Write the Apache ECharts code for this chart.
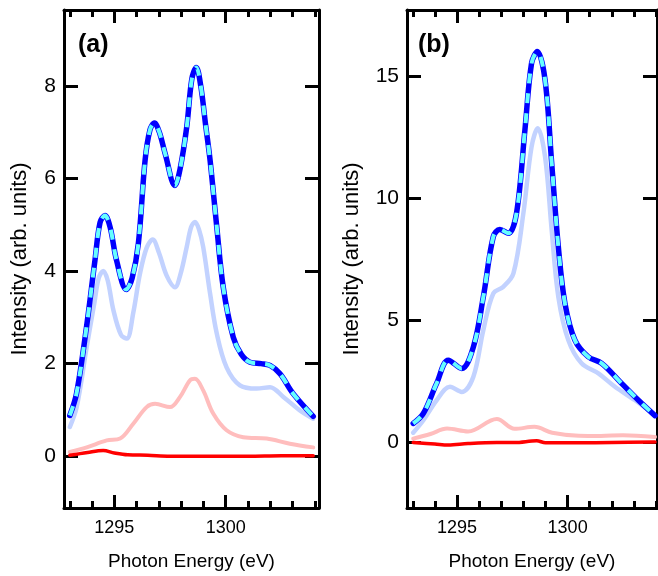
<!DOCTYPE html>
<html>
<head>
<meta charset="utf-8">
<script src="https://cdn.jsdelivr.net/npm/echarts@6/dist/echarts.min.js"></script>
<style>
html,body{margin:0;padding:0;background:#fff;}
#chart{width:658px;height:576px;}
</style>
</head>
<body>
<div id="chart"></div>
<script>
// ---------- Data (Photon Energy eV, Intensity arb. units) ----------
const panelLabels = ['(a)', '(b)'];
const xName = 'Photon Energy (eV)';
const yName = 'Intensity (arb. units)';
const xMajorTicks = [1295, 1300];
const xMinorTicks = [1293, 1294, 1295, 1296, 1297, 1298, 1299, 1300, 1301, 1302, 1303, 1304];
const yTicksA = [0, 2, 4, 6, 8];
const yTicksB = [0, 5, 10, 15];

// Panel (a)
const aTotal = [[1293.0,0.88],[1293.3,1.35],[1293.75,2.79],[1294.13,4.23],[1294.36,5.05],[1294.58,5.2],[1294.81,4.95],[1295.1,4.23],[1295.54,3.6],[1295.8,3.85],[1296.08,4.6],[1296.38,6.39],[1296.6,7.05],[1296.8,7.2],[1297.02,7.0],[1297.28,6.54],[1297.72,5.85],[1297.95,6.2],[1298.25,7.11],[1298.48,8.15],[1298.68,8.4],[1298.88,8.0],[1299.1,7.15],[1299.3,6.39],[1299.6,4.95],[1299.89,3.65],[1300.34,2.57],[1300.7,2.2],[1301.09,2.03],[1301.6,2.0],[1301.99,1.96],[1302.44,1.78],[1303.03,1.35],[1303.93,0.86]];
const aComp1 = [[1293.0,0.63],[1293.31,1.06],[1293.76,2.36],[1294.1,3.3],[1294.3,3.85],[1294.5,4.0],[1294.7,3.8],[1294.96,3.15],[1295.3,2.62],[1295.56,2.54],[1295.85,3.1],[1296.15,3.94],[1296.45,4.5],[1296.72,4.68],[1297.0,4.4],[1297.35,3.9],[1297.72,3.65],[1297.98,3.95],[1298.25,4.52],[1298.45,4.95],[1298.62,5.06],[1298.8,4.9],[1298.99,4.52],[1299.3,3.51],[1299.6,2.65],[1300.04,1.92],[1300.64,1.53],[1301.39,1.46],[1301.99,1.49],[1302.59,1.28],[1303.33,0.99],[1303.93,0.81]];
const aComp2 = [[1293.0,0.09],[1293.76,0.19],[1294.66,0.34],[1295.26,0.38],[1295.85,0.7],[1296.45,1.06],[1296.83,1.13],[1297.5,1.06],[1297.95,1.28],[1298.4,1.64],[1298.62,1.67],[1298.99,1.42],[1299.44,0.92],[1300.04,0.56],[1300.79,0.41],[1301.84,0.38],[1302.88,0.27],[1303.93,0.19]];
const aResid = [[1293.0,0.02],[1293.8,0.08],[1294.5,0.12],[1295.0,0.07],[1295.6,0.03],[1296.5,0.02],[1297.5,0.0],[1299.0,0.0],[1301.0,0.0],[1302.5,0.01],[1303.93,0.01]];

// Panel (b)
const bTotal = [[1293.02,0.78],[1293.48,1.19],[1294.08,2.42],[1294.61,3.37],[1295.21,3.03],[1295.74,3.91],[1296.19,5.96],[1296.64,8.42],[1296.94,8.72],[1297.32,8.56],[1297.69,9.38],[1298.07,12.79],[1298.37,15.52],[1298.63,16.0],[1298.98,14.84],[1299.28,11.43],[1299.58,8.01],[1299.88,5.69],[1300.33,4.19],[1300.93,3.51],[1301.54,3.24],[1302.44,2.42],[1303.2,1.73],[1303.95,1.1]];
const bComp1 = [[1293.02,0.4],[1293.48,0.91],[1294.08,1.73],[1294.68,2.28],[1295.21,2.07],[1295.74,2.69],[1296.19,4.6],[1296.64,6.1],[1297.09,6.37],[1297.55,6.92],[1298.0,9.38],[1298.37,12.1],[1298.65,12.86],[1298.98,11.7],[1299.28,8.69],[1299.58,5.96],[1300.03,4.19],[1300.63,3.24],[1301.39,2.83],[1302.14,2.28],[1303.05,1.73],[1303.95,1.1]];
const bComp2 = [[1293.02,0.16],[1293.8,0.35],[1294.55,0.57],[1295.5,0.45],[1296.8,0.96],[1297.6,0.56],[1298.5,0.64],[1299.3,0.4],[1300.5,0.28],[1301.5,0.27],[1302.5,0.3],[1303.95,0.23]];
const bResid = [[1293.02,0.0],[1294.0,-0.06],[1294.6,-0.1],[1295.5,-0.04],[1296.8,0.0],[1297.6,0.0],[1298.6,0.07],[1299.0,-0.01],[1300.5,-0.01],[1302.0,0.0],[1303.95,0.02]];

// ---------- Styling ----------
const FONT = 'Liberation Sans, Arial, Helvetica, sans-serif';
const C_BLUE = '#0000ff', C_CYAN = '#66ffff', C_LBLUE = '#c2d2ff', C_PINK = '#ffbdbd', C_RED = '#ff0000';

const panels = [
  { grid: { left: 64, top: 10, width: 255, height: 498 }, xMin: 1292.74, xMax: 1304.19, yMin: -1.12, yMax: 9.64, yTicks: yTicksA, yNameGap: 33,
    total: aTotal, c1: aComp1, c2: aComp2, res: aResid, label: panelLabels[0], labelPos: [78, 33] },
  { grid: { left: 407, top: 10, width: 250, height: 498 }, xMin: 1292.74, xMax: 1304.04, yMin: -2.68, yMax: 17.7, yTicks: yTicksB, yNameGap: 44,
    total: bTotal, c1: bComp1, c2: bComp2, res: bResid, label: panelLabels[1], labelPos: [418, 33] }
];

const grids = [], xAxes = [], yAxes = [], series = [], titles = [];
const axLine = { show: true, onZero: false, lineStyle: { color: '#000', width: 3 } };
const noLine = { show: false, onZero: false };
const plain = v => String(Math.round(v));
panels.forEach((p, g) => {
  grids.push(p.grid);
  const xb = xAxes.length;
  const xBase = { gridIndex: g, type: 'value', min: p.xMin, max: p.xMax, splitLine: { show: false } };
  xAxes.push(Object.assign({}, xBase, { position: 'bottom', axisLine: axLine,
    axisTick: { inside: true, length: 13, customValues: xMajorTicks, lineStyle: { color: '#000', width: 3 } },
    axisLabel: { customValues: xMajorTicks, formatter: plain, fontSize: 18, color: '#000', margin: 11, fontFamily: FONT },
    name: xName, nameLocation: 'middle', nameGap: 44, nameTextStyle: { fontSize: 19, color: '#000', fontFamily: FONT } }));
  xAxes.push(Object.assign({}, xBase, { position: 'bottom', axisLine: noLine,
    axisTick: { inside: true, length: 7, customValues: xMinorTicks, lineStyle: { color: '#000', width: 3 } },
    axisLabel: { show: false } }));
  xAxes.push(Object.assign({}, xBase, { position: 'top', axisLine: axLine,
    axisTick: { inside: true, length: 13, customValues: xMajorTicks, lineStyle: { color: '#000', width: 3 } },
    axisLabel: { show: false } }));
  xAxes.push(Object.assign({}, xBase, { position: 'top', axisLine: noLine,
    axisTick: { inside: true, length: 7, customValues: xMinorTicks, lineStyle: { color: '#000', width: 3 } },
    axisLabel: { show: false } }));
  const yb = yAxes.length;
  const yBase = { gridIndex: g, type: 'value', min: p.yMin, max: p.yMax, splitLine: { show: false } };
  yAxes.push(Object.assign({}, yBase, { position: 'left', axisLine: axLine,
    axisTick: { inside: true, length: 14, customValues: p.yTicks, lineStyle: { color: '#000', width: 3 } },
    axisLabel: { customValues: p.yTicks, formatter: plain, fontSize: 21, color: '#000', margin: 8, fontFamily: FONT },
    name: yName, nameLocation: 'middle', nameGap: p.yNameGap, nameTextStyle: { fontSize: 22, color: '#000', fontFamily: FONT } }));
  yAxes.push(Object.assign({}, yBase, { position: 'right', axisLine: axLine,
    axisTick: { inside: true, length: 14, customValues: p.yTicks, lineStyle: { color: '#000', width: 3 } },
    axisLabel: { show: false } }));
  const mk = (data, color, width, extra) => Object.assign({
    type: 'line', xAxisIndex: xb, yAxisIndex: yb, data: data, smooth: 0.35, symbol: 'none', silent: true,
    lineStyle: { color: color, width: width, cap: 'round', join: 'round' }
  }, extra || {});
  series.push(mk(p.c2, C_PINK, 4));
  series.push(mk(p.c1, C_LBLUE, 4.5));
  series.push(mk(p.res, C_RED, 3.5));
  series.push(mk(p.total, C_BLUE, 5.5));
  series.push(mk(p.total, C_CYAN, 4, { lineStyle: { color: C_CYAN, width: 4, type: [10, 10], cap: 'butt' } }));
  titles.push({ text: p.label, left: p.labelPos[0], top: p.labelPos[1], padding: 0,
    textStyle: { fontSize: 25, fontWeight: 'bold', color: '#000', fontFamily: FONT } });
});

const chart = echarts.init(document.getElementById('chart'), null, { renderer: 'canvas' });
chart.setOption({
  animation: false,
  backgroundColor: '#fff',
  title: titles,
  grid: grids,
  xAxis: xAxes,
  yAxis: yAxes,
  series: series
});
</script>
</body>
</html>
